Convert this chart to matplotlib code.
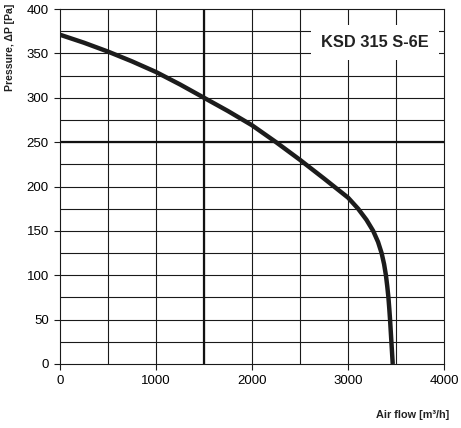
import matplotlib
matplotlib.use('Agg')
import matplotlib.pyplot as plt
import numpy as np

plt.rcParams['font.family'] = ['Liberation Sans', 'DejaVu Sans']

## data
flow = [0, 250, 500, 750, 1000, 1250, 1500, 1750, 2000, 2250, 2500, 2750, 3000,
        3105, 3192, 3262, 3313, 3350, 3376, 3395, 3409, 3421, 3430, 3438, 3452, 3466]
pressure = [371, 362, 352, 341, 329, 315, 300, 285, 269, 250, 230, 209, 187.5,
            175, 162.5, 150, 137.5, 125, 112.5, 100, 87.5, 75, 62.5, 50, 25, 0]
model = 'KSD 315 S-6E'
x_ticks = [0, 1000, 2000, 3000, 4000]
y_ticks = [0, 50, 100, 150, 200, 250, 300, 350, 400]

fig = plt.figure(figsize=(4.61, 4.28), dpi=100)
ax = fig.add_axes([60 / 461, 1 - 364 / 428, 384 / 461, 355 / 428])

# fine grid
for gx in np.arange(500, 4000, 500):
    ax.axvline(gx, color='#1a1a1a', lw=0.8, zorder=1)
for gy in np.arange(25, 400, 25):
    ax.axhline(gy, color='#1a1a1a', lw=0.8, zorder=1)
# heavy reference lines
ax.axvline(1500, color='#111111', lw=1.6, zorder=2)
ax.axhline(250, color='#111111', lw=1.6, zorder=2)

ax.plot(flow, pressure, color='#1c1c1c', lw=3.2, solid_capstyle='butt',
        solid_joinstyle='round', zorder=4)

ax.set_xlim(0, 4000)
ax.set_ylim(0, 400)
ax.set_xticks(x_ticks)
ax.set_yticks(y_ticks)
ax.tick_params(direction='out', length=4, width=0.8, labelsize=9.5, color='#1a1a1a', pad=4)
for s in ax.spines.values():
    s.set_linewidth(0.8)
    s.set_color('#1a1a1a')

ax.text(0.82, 0.905, model, transform=ax.transAxes, ha='center', va='center',
        fontsize=11.8, fontweight='bold', color='#222222', zorder=6,
        bbox=dict(boxstyle='square,pad=0.6', fc='white', ec='none'))

fig.text(10 / 461, 1 - 47 / 428, 'Pressure, ΔP [Pa]', rotation=90, ha='center', va='center',
         fontsize=7.6, fontweight='bold', color='#222222')
fig.text(413 / 461, 1 - 415 / 428, 'Air flow [m³/h]', ha='center', va='center',
         fontsize=7.8, fontweight='bold', color='#222222')

fig.savefig('out.png', dpi=100)
